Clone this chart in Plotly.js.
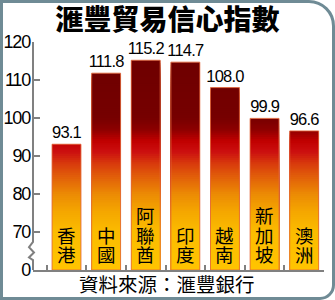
<!DOCTYPE html>
<html><head><meta charset="utf-8">
<script src="https://cdn.plot.ly/plotly-3.0.1.min.js"></script>
<style>
html,body{margin:0;padding:0;background:#fff;}
#wrap{position:relative;width:335px;height:300px;}
#chart{width:335px;height:300px;}
#frame{position:absolute;left:0;top:0;width:335px;height:300px;box-sizing:border-box;border:3px solid #6f8b95;border-radius:0 26px 15px 0;pointer-events:none;}
#chart text.bartext{letter-spacing:-0.8px;}
#chart g.ytick text{letter-spacing:-1.2px;}
</style></head>
<body>
<div id="wrap"><div id="chart"></div><div id="frame"></div></div>
<script>
const categories = ['香港','中國','阿聯酋','印度','越南','新加坡','澳洲'];
const values = [93.1, 111.8, 115.2, 114.7, 108.0, 99.9, 96.6];
const tickVals = [60, 70, 80, 90, 100, 110, 120];
const tickText = ['0', '70', '80', '90', '100', '110', '120'];
const titleText = '滙豐貿易信心指數';
const sourceText = '資料來源：滙豐銀行';

// gradient colour stops (value level -> colour)
const stops = [
  [60, [255,196,0]], [70, [251,188,0]], [75, [245,168,0]], [80, [236,138,4]],
  [85, [224,90,10]], [88, [216,58,12]], [91, [204,16,16]], [94, [192,0,0]],
  [97, [140,0,0]], [100, [118,0,0]], [120, [108,0,0]]
];
function colorAt(v){
  for(let i=0;i<stops.length-1;i++){
    const [a,ca]=stops[i],[b,cb]=stops[i+1];
    if(v>=a && v<=b){
      const t=(v-a)/(b-a);
      const c=ca.map((x,k)=>Math.round(x+(cb[k]-x)*t));
      return 'rgb('+c.join(',')+')';
    }
  }
  return 'rgb(108,0,0)';
}

// gradient drawn as overlapping bars: each band bar spans from the axis floor up to
// min(value, band top); higher bands are drawn first, lower ones on top (no seams)
const traces = [];
const step = 0.5;
for(let hi=120; hi>60; hi-=step){
  const lo = hi-step;
  traces.push({
    type:'bar', x:categories, base:60,
    y:values.map(v=> v>lo ? Math.min(v, hi)-60 : 0),
    marker:{color:colorAt(lo+step/2), line:{width:0}},
    hoverinfo:'skip', showlegend:false
  });
}
traces.push({
  type:'bar', x:categories, base:60,
  y:values.map(v=>v-60),
  marker:{color:'rgba(0,0,0,0)', line:{color:'rgba(228,104,60,0.85)', width:1}},
  text:values.map(v=>v.toFixed(1)), textposition:'outside', cliponaxis:false, constraintext:'none',
  textfont:{family:'"Liberation Sans", Arial, sans-serif', size:16.5, color:'#000'},
  hoverinfo:'skip', showlegend:false
});

const labelFont = {family:'"Noto Sans CJK TC", "Noto Sans CJK SC", sans-serif', size:18.5, color:'#000'};
const annotations = [];
categories.forEach(cat=>{
  const chars = Array.from(cat);
  chars.forEach((ch,i)=>{
    annotations.push({
      x:cat, y:60, xref:'x', yref:'y', text:ch, showarrow:false,
      yanchor:'bottom', yshift:(chars.length-1-i)*19.5 + 1, font:labelFont
    });
  });
});
annotations.push({
  xref:'paper', yref:'paper', x:(166.5-33)/291, y:-13/228, yanchor:'middle', xanchor:'center',
  text:sourceText, showarrow:false,
  font:{family:'"Noto Sans CJK TC", sans-serif', size:19.5, color:'#000'}
});

const px = 1/291;
const shapes = [{
  type:'path', xref:'paper', yref:'y', layer:'above',
  path:'M 0,120 L 0,67.4 L '+(-4*px)+',66 L '+(1*px)+',64.6 L '+(-4*px)+',63.3 L 0,62.6 L 0,60',
  line:{color:'#808080', width:2}
}];

const layout = {
  width:335, height:300,
  margin:{l:33, r:11, t:42, b:30},
  paper_bgcolor:'#fff', plot_bgcolor:'#fff',
  barmode:'overlay', bargap:0.27,
  title:{text:titleText, xref:'container', yref:'container', x:0.5, y:1-20.5/300, xanchor:'center', yanchor:'middle',
    font:{family:'"Noto Sans CJK TC", sans-serif', size:28, weight:900, color:'#000'}},
  xaxis:{type:'category', range:[-0.846, 6.5], showticklabels:false, showline:true, linecolor:'#808080', linewidth:2,
    ticks:'inside', tickson:'boundaries', ticklen:5, tickwidth:2, tickcolor:'#808080', showgrid:false, zeroline:false, fixedrange:true},
  yaxis:{range:[60,120], tickvals:tickVals, ticktext:tickText, showline:false, ticks:'inside', ticklen:7, tickwidth:2,
    tickcolor:'#808080', showgrid:false, zeroline:false, ticklabelstandoff:2,
    tickfont:{family:'"Liberation Sans", Arial, sans-serif', size:18, color:'#000'}, fixedrange:true},
  annotations:annotations, shapes:shapes, font:{family:'Arial, sans-serif'}
};
Plotly.newPlot('chart', traces, layout, {displayModeBar:false, staticPlot:true});
</script>
</body></html>
